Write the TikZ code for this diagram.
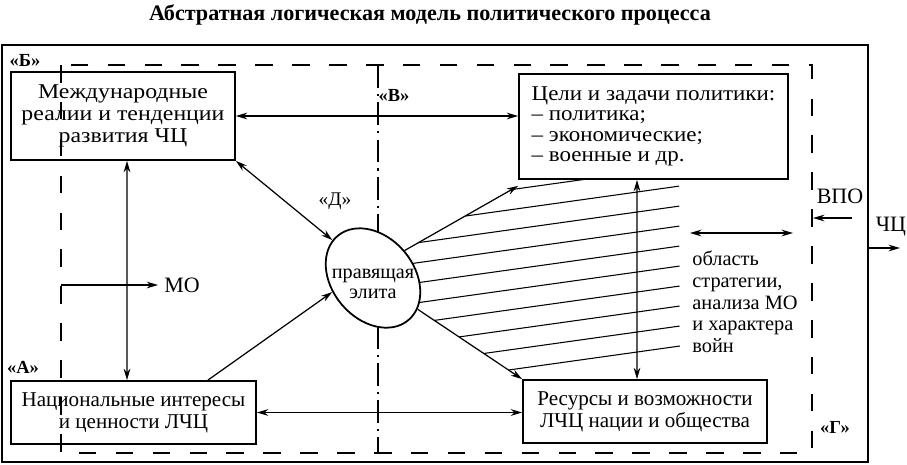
\documentclass[tikz,border=0pt]{standalone}
\usepackage{fontspec}
\setmainfont{Liberation Serif}
\newfontfamily\shirokij[FakeStretch=1.13]{Liberation Serif}
\newfontfamily\shirokijB[FakeStretch=1.09]{Liberation Serif}
\usetikzlibrary{shapes.geometric,arrows.meta,backgrounds}
\tikzset{
  blok/.style={draw, line width=1pt, inner sep=0pt, align=center, font=\fontsize{12}{12.5}\selectfont},
  strelka/.style={line width=0.7pt, -{Stealth[length=6.5pt,width=3.8pt]}},
  dvestrelki/.style={line width=0.7pt, {Stealth[length=6.5pt,width=3.8pt]}-{Stealth[length=6.5pt,width=3.8pt]}},
  metka/.style={font=\bfseries\fontsize{10.5}{12}\selectfont, inner sep=0pt},
  tekst/.style={font=\fontsize{12.5}{12.5}\selectfont},
  shtrih/.style={line width=0.6pt},
}

\begin{document}
\begin{tikzpicture}[x=0.02cm, y=-0.02cm]
		\useasboundingbox (0,0) rectangle (907,464);
		
		\node[font=\bfseries\fontsize{12.6}{14}\selectfont] (title) at (430,15) {Абстратная логическая модель политического процесса};
		
		\draw[line width=1pt] (2,45) rectangle (868,462);
		\draw[line width=1pt, dash pattern=on 10pt off 11pt] (61,65) rectangle (812,453);
		\draw[line width=0.6pt, dash pattern=on 13pt off 3.5pt on 1.2pt off 3.5pt] (378,65) -- (378,453);
		
		\node[blok, font=\shirokij\fontsize{12}{12.5}\selectfont, minimum width=4.48cm, minimum height=1.76cm] (realii) at (123,116) {Международные\\реалии и тенденции\\развития ЧЦ};
		\node[blok, font=\shirokijB\fontsize{12}{11.6}\selectfont, align=left, minimum width=5.38cm, minimum height=2.1cm] (celi) at (653.5,126.5) {Цели и задачи политики:\\– политика;\\– экономические;\\– военные и др.};
		\node[blok, minimum width=4.9cm, minimum height=1.26cm] (interesy) at (133.5,412.5) {Национальные интересы\\и ценности ЛЧЦ};
		\node[blok, minimum width=4.88cm, minimum height=1.26cm] (resursy) at (645,411.5) {Ресурсы и возможности\\ЛЧЦ нации и общества};
		
		\node[draw, ellipse, fill=white, line width=1pt, rotate=-50, minimum width=2.2cm, minimum height=1.64cm, inner sep=0pt] (elite) at (373,278) {};
		\node[align=center, font=\fontsize{11.5}{11.5}\selectfont] (elitetxt) at ([yshift=-0.12cm]elite.center) {правящая\\элита};
		
		% hatched area
		\begin{scope}[on background layer]
			\clip (elite.center) -- (elite.91) -- ([yshift=-0.12cm]celi.south west) -- (celi.south west) -- ++(161,0) -- (680,390) -- (resursy.north west) -- (elite.15) -- cycle;
			\foreach \k in {0,...,9}
				\draw[shtrih] (300,{166+20*\k+380*0.14}) -- (680,{166+20*\k});
		\end{scope}
		
		\draw[dvestrelki] (realii.east) -- (realii.east -| celi.west);
		\draw[dvestrelki] ([xshift=0.08cm]realii.south) -- ([xshift=-0.13cm]interesy.north);
		\draw[dvestrelki] (realii.south east) -- (elite.187);
		\draw[strelka] ([xshift=-0.98cm]interesy.north east) -- (elite.249);
		\draw[dvestrelki] (interesy.east) -- (interesy.east -| resursy.west);
		\draw[strelka] (elite.91) -- ([yshift=-0.12cm]celi.south west);
		\draw[strelka] (elite.15) -- (resursy.north west);
		\draw[dvestrelki] ([xshift=-0.33cm]celi.south) -- ([xshift=-0.16cm]resursy.north);
		
		\node[metka] (labB) at (25,60) {«Б»};
		\node[metka] (labV) at (394,95) {«В»};
		\node[font=\fontsize{11}{12}\selectfont, inner sep=0pt] (labD) at (335,201) {«Д»};
		\node[metka] (labA) at (23,367) {«А»};
		\node[metka] (labG) at (835,427) {«Г»};
		
		\node[tekst] (mo) at (182,285) {МО};
		\coordinate (moin) at (61,285);
		\draw[strelka] (moin) -- (mo);
		
		\node[tekst] (vpo) at (840,196) {ВПО};
		\coordinate (vpoin) at (852,218);
		\coordinate (vpoout) at (813,218);
		\draw[strelka] (vpoin) -- (vpoout);
		
		\node[tekst] (chc) at (891,227) {ЧЦ};
		\coordinate (chcin) at (868,248);
		\coordinate (chcout) at (900,248);
		\draw[strelka] (chcin) -- (chcout);
		
		\coordinate (obl1) at (690,233);
		\coordinate (obl2) at (793,233);
		\draw[dvestrelki] (obl1) -- (obl2);
		\node[font=\fontsize{11.6}{12.4}\selectfont, align=left, anchor=west, inner sep=0pt] (oblast) at (692,302) {область\\стратегии,\\анализа МО\\и характера\\войн};
	\end{tikzpicture}
\end{document}
